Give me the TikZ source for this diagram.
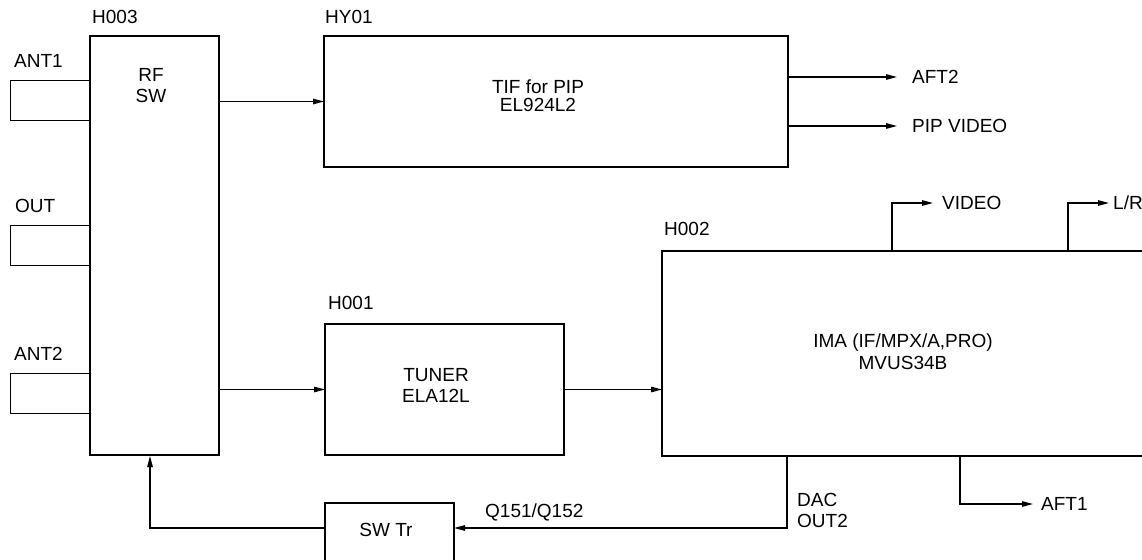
\documentclass[tikz,border=0pt]{standalone}
\usepackage{fontspec}
\setmainfont{Liberation Sans}
\usetikzlibrary{arrows.meta,positioning,calc}
\tikzset{
  blk/.style={draw,rectangle,line width=2.6pt,inner sep=0pt,outer sep=0pt},
  antblk/.style={draw,rectangle,line width=1pt,inner sep=0pt,outer sep=0pt,minimum width=80pt,minimum height=40pt},
  txt/.style={font=\fontsize{19}{21}\selectfont,align=center,inner sep=0pt},
  lbl/.style={font=\fontsize{19}{21}\selectfont,anchor=base west,inner sep=0pt},
  side/.style={font=\fontsize{19}{21}\selectfont,anchor=west,inner sep=0pt,align=left},
  arr/.style={-{Triangle[length=11pt,width=5.5pt]},line width=1.3pt}
}

\begin{document}
\begin{tikzpicture}[x=1pt,y=-1pt]
  \clip (0,0) rectangle (1142,559);
  % RF switch and antenna inputs
  \node[blk, minimum width=129pt, minimum height=419pt] (rfsw) at (154.5,245.5) {};
  \node[txt] (rfswtxt) at (151,86) {RF\\SW};
  \node[lbl] (rfswlbl) at (92,24) {H003};
  \node[antblk] (ant1) at (50,101) {};
  \node[antblk] (antout) at (50,245) {};
  \node[antblk] (ant2) at (50,393) {};
  \node[lbl] (ant1lbl) at (14,68) {ANT1};
  \node[lbl] (antoutlbl) at (15,212) {OUT};
  \node[lbl] (ant2lbl) at (14,360) {ANT2};

  % PIP tuner IF
  \node[blk, minimum width=464pt, minimum height=131pt] (tif) at (556,101.5) {};
  \node[txt, font=\fontsize{19}{18}\selectfont] (tiftxt) at (538,96) {TIF for PIP\\EL924L2};
  \node[lbl] (tiflbl) at (325,24) {HY01};

  % Main tuner
  \node[blk, minimum width=239pt, minimum height=131pt] (tuner) at (444.5,389.5) {};
  \node[txt] (tunertxt) at (436,385) {TUNER\\ELA12L};
  \node[lbl] (tunerlbl) at (328,309) {H001};

  % IF / MPX / audio processor
  \node[blk, minimum width=498pt, minimum height=205pt] (ima) at (911,353.5) {};
  \node[txt, font=\fontsize{19}{22}\selectfont] (imatxt) at (903,352) {IMA (IF/MPX/A,PRO)\\MVUS34B};
  \node[lbl] (imalbl) at (664,235) {H002};

  % Switch transistor
  \node[blk, minimum width=129pt, minimum height=60pt] (swtr) at (389.5,533) {};
  \node[txt] (swtrtxt) at (386,530) {SW Tr};

  % Signal path
  \draw[arr] (rfsw.east |- tif.west) -- (tif.west);
  \draw[arr] (rfsw.east |- tuner.west) -- (tuner.west);
  \draw[arr] (tuner.east) -- (tuner.east -| ima.west);

  % PIP outputs
  \coordinate (aft2end) at (897,77);
  \coordinate (pipend) at (897,126);
  \draw[arr] (tif.east |- aft2end) -- (aft2end);
  \draw[arr] (tif.east |- pipend) -- (pipend);
  \node[side] (aft2lbl) at (912,77) {AFT2};
  \node[side] (piplbl) at (912,126) {PIP VIDEO};

  % Main outputs
  \coordinate (vidout) at (892,251);
  \coordinate (vidend) at (933,203);
  \coordinate (lrout) at (1068,251);
  \coordinate (lrend) at (1109,203);
  \coordinate (aft1out) at (960,456);
  \coordinate (aft1end) at (1033,504);
  \draw[arr] (vidout) |- (vidend);
  \draw[arr] (lrout) |- (lrend);
  \draw[arr] (aft1out) |- (aft1end);
  \node[side] (vidlbl) at (942,203) {VIDEO};
  \node[side] (lrlbl) at (1113,203) {L/R};
  \node[side] (aft1lbl) at (1041,504) {AFT1};

  % Feedback to RF switch
  \coordinate (dac) at (787,456);
  \coordinate (fbrow) at (0,528);
  \coordinate (rfin) at (150,456);
  \draw[arr] (dac) |- (swtr.east |- fbrow);
  \draw[arr] (swtr.west |- fbrow) -| (rfin);
  \node[side] (daclbl) at (797,510.5) {DAC\\OUT2};
  \node[lbl] (qlbl) at (485,517) {Q151/Q152};
\end{tikzpicture}
\end{document}
